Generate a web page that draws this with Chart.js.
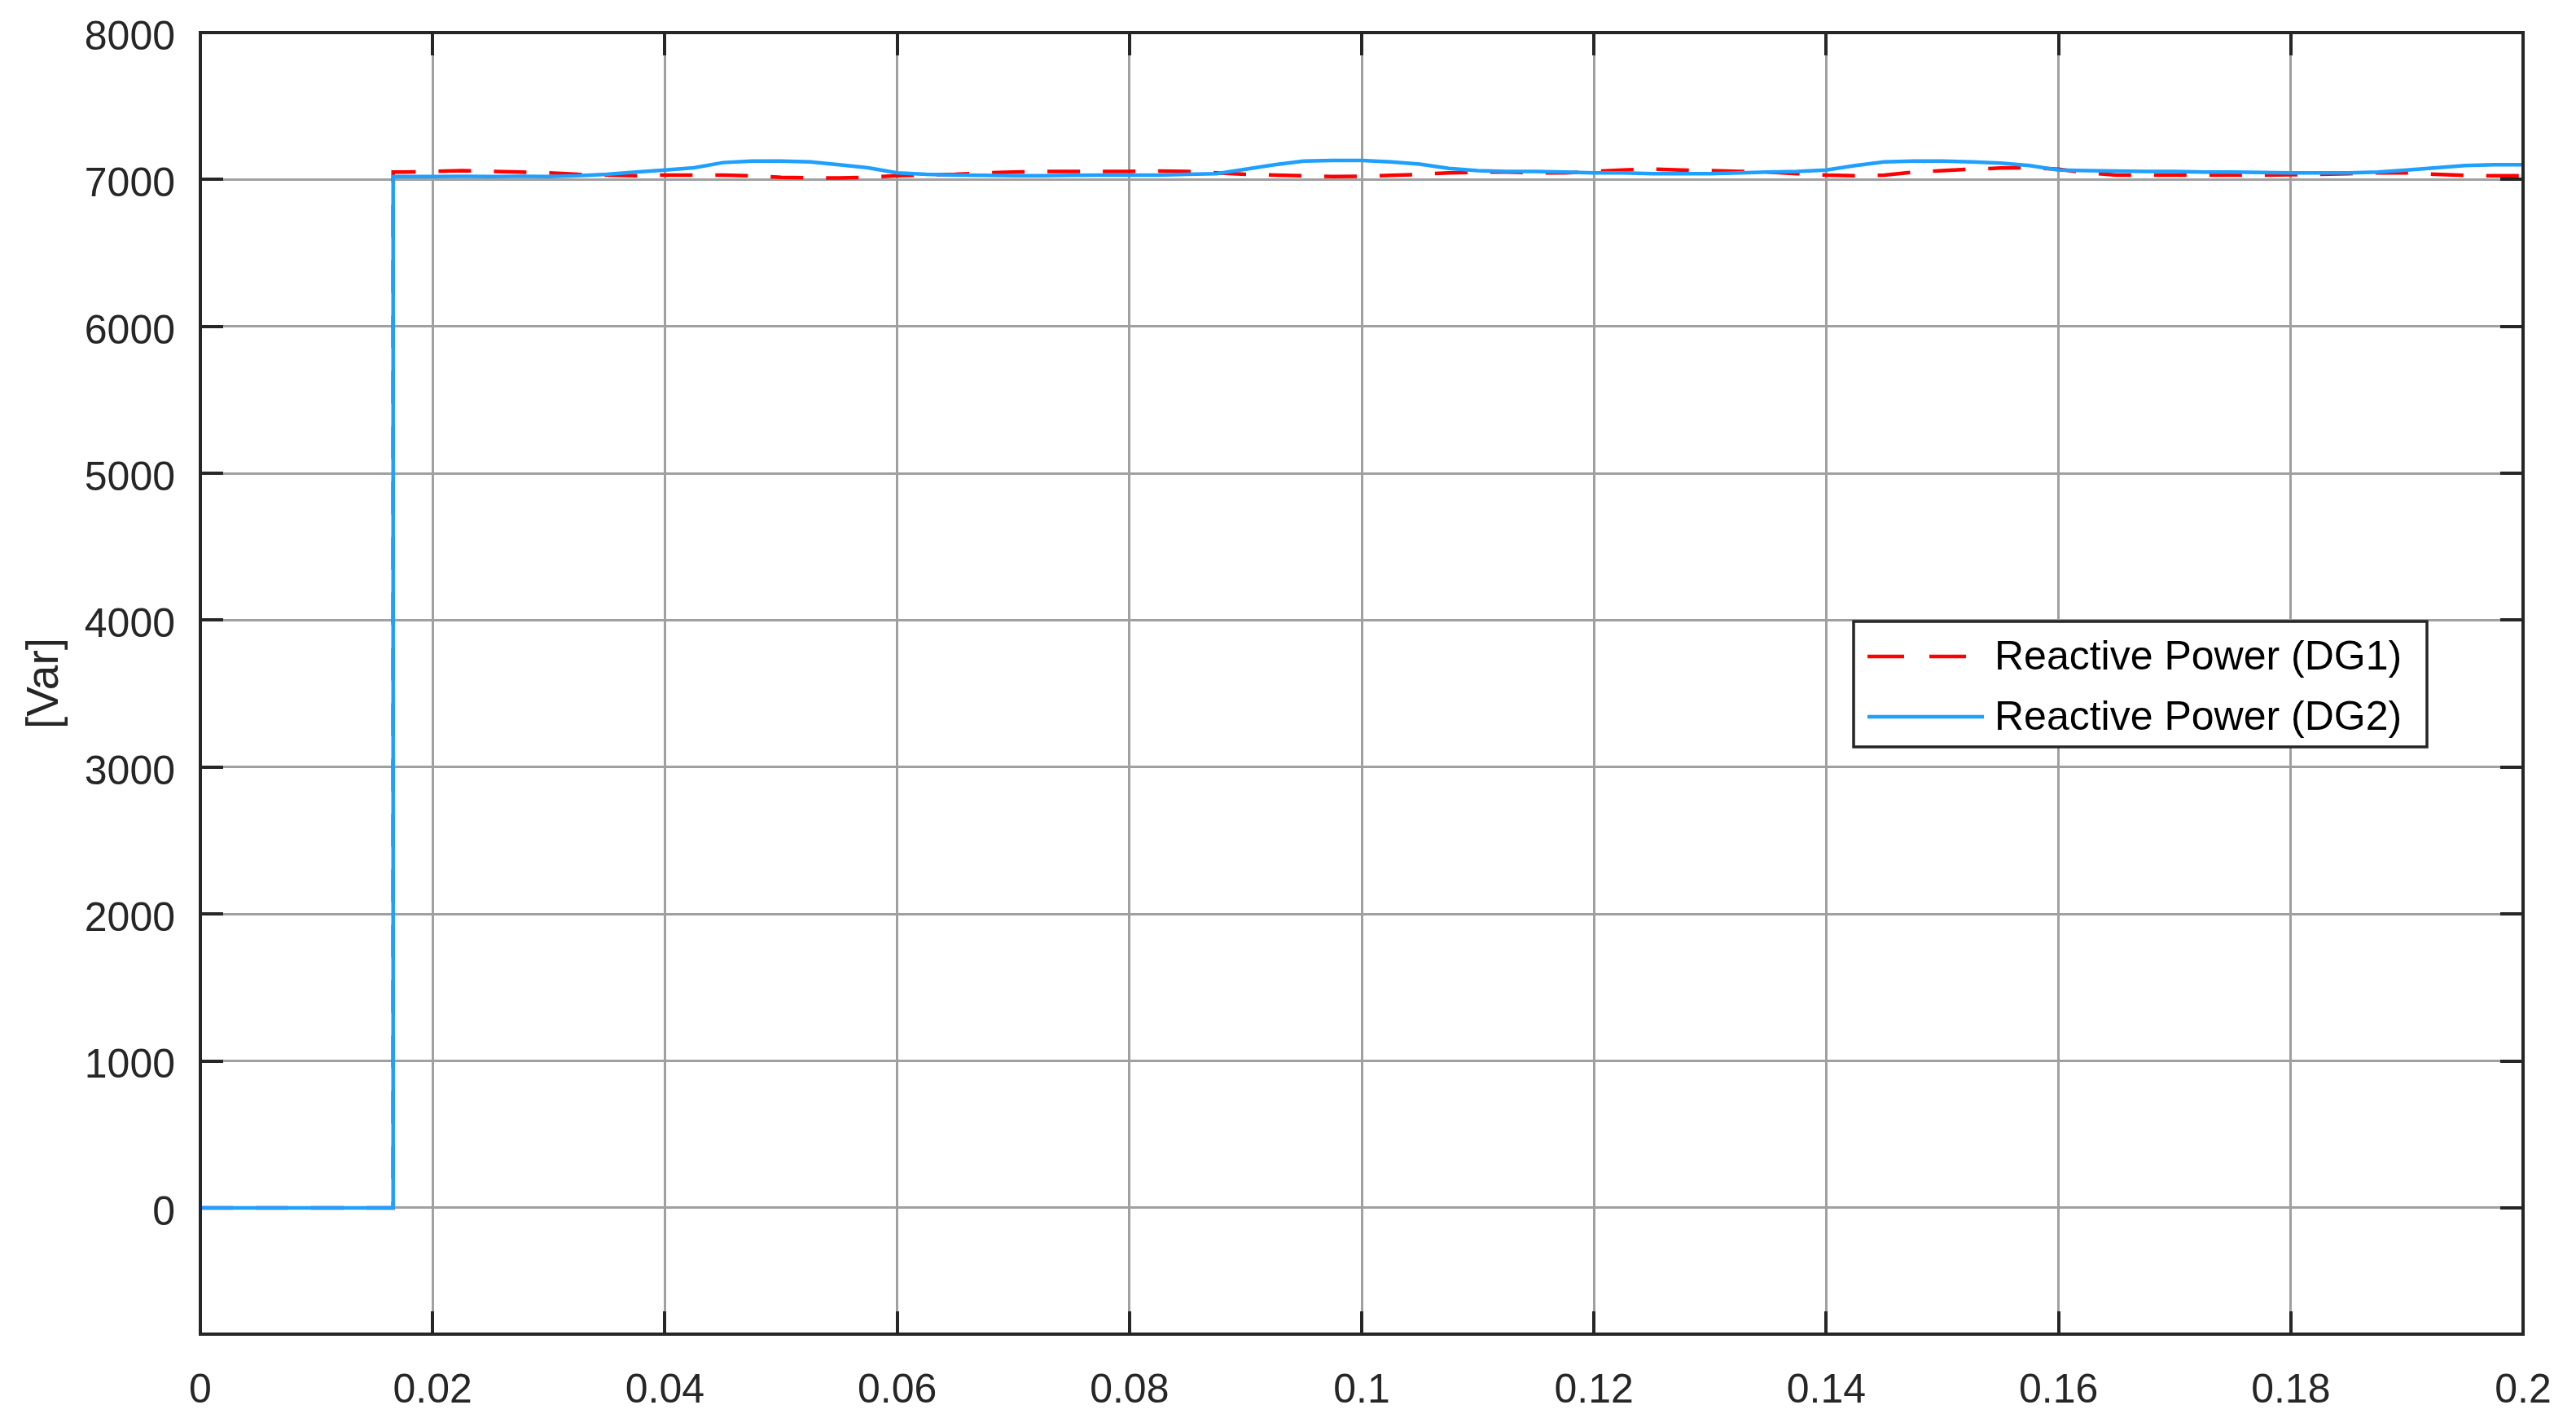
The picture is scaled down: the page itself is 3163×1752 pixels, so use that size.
<!DOCTYPE html>
<html>
<head>
<meta charset="utf-8">
<script src="https://cdn.jsdelivr.net/npm/chart.js@4.4.0/dist/chart.umd.min.js"></script>
<style>
  html, body { margin: 0; padding: 0; background: #ffffff; }
  #wrap { width: 3163px; height: 1752px; }
</style>
</head>
<body>
<div id="wrap"><canvas id="c" width="3163" height="1752"></canvas></div>
<script>
// ---- data ----
const times = [0, 0.0166, 0.0166, 0.0175,
  0.02, 0.0225, 0.025, 0.0275, 0.03, 0.0325, 0.035, 0.0375, 0.04, 0.0425,
  0.045, 0.0475, 0.05, 0.0525, 0.055, 0.0575, 0.06, 0.0625, 0.065, 0.0675,
  0.07, 0.0725, 0.075, 0.0775, 0.08, 0.0825, 0.085, 0.0875, 0.09, 0.0925,
  0.095, 0.0975, 0.1, 0.1025, 0.105, 0.1075, 0.11, 0.1125, 0.115, 0.1175,
  0.12, 0.1225, 0.125, 0.1275, 0.13, 0.1325, 0.135, 0.1375, 0.14, 0.1425,
  0.145, 0.1475, 0.15, 0.1525, 0.155, 0.1575, 0.16, 0.1625, 0.165, 0.1675,
  0.17, 0.1725, 0.175, 0.1775, 0.18, 0.1825, 0.185, 0.1875, 0.19, 0.1925,
  0.195, 0.1975, 0.2];

const reactiveDG1 = [0, 0, 7050, 7050,
  7055, 7060, 7055, 7050, 7045, 7035, 7030, 7025, 7030, 7030,
  7030, 7025, 7015, 7010, 7010, 7015, 7025, 7030, 7035, 7045,
  7050, 7055, 7055, 7055, 7055, 7058, 7055, 7045, 7035, 7030,
  7025, 7020, 7022, 7028, 7035, 7045, 7050, 7050, 7045, 7045,
  7055, 7065, 7070, 7065, 7060, 7055, 7050, 7040, 7030, 7025,
  7030, 7050, 7060, 7070, 7078, 7080, 7070, 7045, 7030, 7030,
  7030, 7030, 7030, 7030, 7032, 7035, 7040, 7045, 7045, 7035,
  7028, 7025, 7025];

const reactiveDG2 = [0, 0, 7020, 7020,
  7020, 7022, 7020, 7022, 7020, 7025, 7035, 7050, 7065, 7080,
  7115, 7125, 7125, 7120, 7100, 7080, 7045, 7035, 7030, 7028,
  7025, 7025, 7028, 7030, 7030, 7030, 7035, 7040, 7070, 7100,
  7125, 7130, 7130, 7120, 7105, 7075, 7060, 7055, 7055, 7050,
  7045, 7045, 7040, 7040, 7040, 7045, 7050, 7055, 7065, 7095,
  7120, 7125, 7125, 7120, 7112, 7095, 7065, 7060, 7058, 7055,
  7055, 7050, 7050, 7048, 7045, 7045, 7045, 7050, 7065, 7080,
  7095, 7100, 7100];

const xTickValues = [0, 0.02, 0.04, 0.06, 0.08, 0.1, 0.12, 0.14, 0.16, 0.18, 0.2];
const yTickValues = [0, 1000, 2000, 3000, 4000, 5000, 6000, 7000, 8000];
const seriesNames = ['Reactive Power (DG1)', 'Reactive Power (DG2)'];
const yAxisTitle = '[Var]';

// ---- styles ----
const RED = '#ff0000';
const BLUE = '#1fa0ff';
const AXIS = '#262626';
const GRID = '#a0a0a0';
const FONT = '"Liberation Sans", Arial, sans-serif';
const DASH = [40, 28];

const toPts = (vals) => times.map((t, i) => ({ x: t, y: vals[i] }));

const frame = {
  id: 'frame',
  beforeDatasetsDraw(chart) {
    const { ctx, chartArea: a, scales } = chart;
    ctx.save();
    // inner ticks (under the data)
    ctx.strokeStyle = AXIS;
    ctx.lineWidth = 4;
    const TL = 28;
    ctx.beginPath();
    xTickValues.forEach(v => {
      const x = Math.round(scales.x.getPixelForValue(v));
      ctx.moveTo(x, a.bottom); ctx.lineTo(x, a.bottom - TL);
      ctx.moveTo(x, a.top); ctx.lineTo(x, a.top + TL);
    });
    yTickValues.forEach(v => {
      const y = Math.round(scales.y.getPixelForValue(v));
      ctx.moveTo(a.left, y); ctx.lineTo(a.left + TL, y);
      ctx.moveTo(a.right, y); ctx.lineTo(a.right - TL, y);
    });
    ctx.stroke();
    ctx.restore();
  },
  afterDraw(chart) {
    const { ctx, chartArea: a } = chart;
    ctx.save();
    // box
    ctx.strokeStyle = AXIS;
    ctx.lineWidth = 4;
    ctx.strokeRect(a.left, a.top, a.right - a.left, a.bottom - a.top);

    // legend
    const lx = 2276, ly = 763, lw = 704, lh = 154;
    ctx.fillStyle = '#ffffff';
    ctx.fillRect(lx, ly, lw, lh);
    ctx.lineWidth = 3.5;
    ctx.strokeStyle = AXIS;
    ctx.strokeRect(lx, ly, lw, lh);
    const rows = [
      { y: 806, color: RED, dash: [45, 31], x2: 2414, label: seriesNames[0] },
      { y: 880, color: BLUE, dash: [], x2: 2436, label: seriesNames[1] }
    ];
    rows.forEach(r => {
      ctx.beginPath();
      ctx.setLineDash(r.dash);
      ctx.strokeStyle = r.color;
      ctx.lineWidth = 4.5;
      ctx.moveTo(2293, r.y); ctx.lineTo(r.x2, r.y);
      ctx.stroke();
      ctx.setLineDash([]);
      ctx.fillStyle = '#000000';
      ctx.font = '50px ' + FONT;
      ctx.textBaseline = 'middle';
      ctx.textAlign = 'left';
      ctx.fillText(r.label, 2449, r.y + 2);
    });
    ctx.restore();
  }
};

new Chart(document.getElementById('c'), {
  type: 'line',
  data: {
    datasets: [
      {
        label: seriesNames[1],
        data: toPts(reactiveDG2),
        borderColor: BLUE,
        borderWidth: 4.5,
        pointRadius: 0,
        tension: 0,
        fill: false,
        order: 0
      },
      {
        label: seriesNames[0],
        data: toPts(reactiveDG1),
        borderColor: RED,
        borderWidth: 4.5,
        borderDash: DASH,
        pointRadius: 0,
        tension: 0,
        fill: false,
        order: 1
      }
    ]
  },
  options: {
    responsive: false,
    animation: false,
    devicePixelRatio: 1,
    layout: { padding: { left: 0, right: 65, top: 40, bottom: 0 } },
    plugins: { legend: { display: false }, tooltip: { enabled: false } },
    scales: {
      x: {
        type: 'linear',
        min: 0,
        max: 0.2,
        afterBuildTicks: (s) => { s.ticks = xTickValues.map(v => ({ value: v })); },
        afterFit: (s) => { s.height = 114; s.paddingLeft = 0; s.paddingRight = 0; },
        border: { display: false },
        grid: { color: GRID, lineWidth: 3, drawTicks: false },
        ticks: {
          padding: 40,
          maxRotation: 0,
          autoSkip: false,
          color: AXIS,
          font: { family: FONT, size: 50 },
          callback: (v) => String(Number(v.toFixed(3)))
        }
      },
      y: {
        type: 'linear',
        min: -860,
        max: 8000,
        afterBuildTicks: (s) => { s.ticks = yTickValues.map(v => ({ value: v })); },
        afterFit: (s) => { s.width = 246; s.paddingTop = 0; s.paddingBottom = 0; },
        border: { display: false },
        grid: { color: GRID, lineWidth: 3, drawTicks: false },
        title: {
          display: true,
          text: yAxisTitle,
          color: AXIS,
          font: { family: FONT, size: 55 },
          padding: { top: 23, bottom: 0 }
        },
        ticks: {
          padding: 31,
          labelOffset: 7,
          autoSkip: false,
          color: AXIS,
          font: { family: FONT, size: 50 },
          callback: (v) => String(v)
        }
      }
    }
  },
  plugins: [frame]
});
</script>
</body>
</html>
